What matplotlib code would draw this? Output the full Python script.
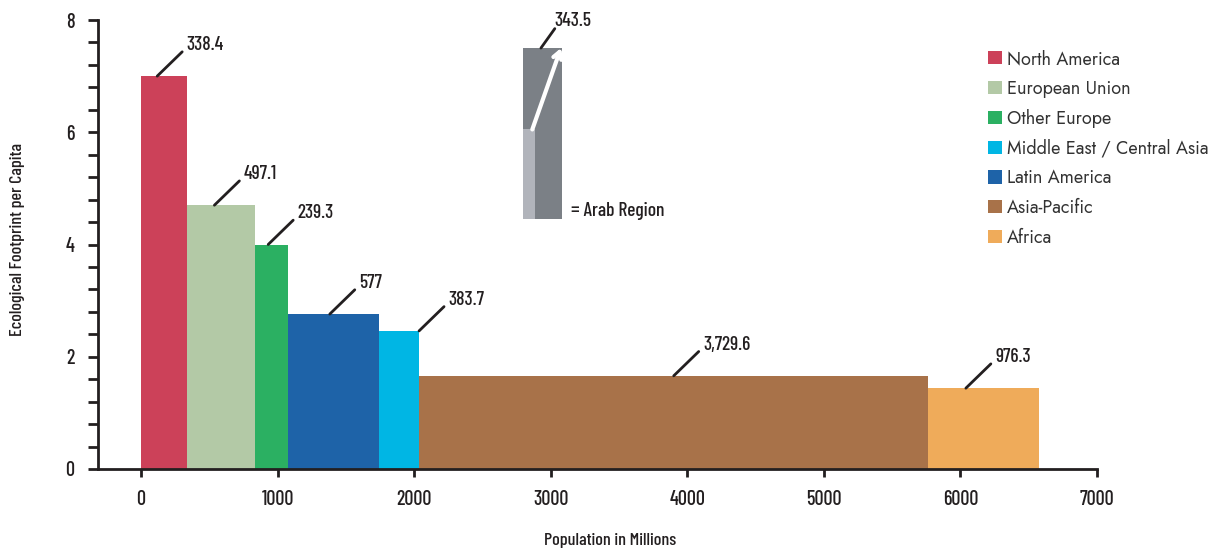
import numpy as np
import matplotlib
matplotlib.use("Agg")
import matplotlib.pyplot as plt
from matplotlib.patches import Patch

# Data
regions = ["North America", "European Union", "Other Europe", "Latin America",
           "Middle East / Central Asia", "Asia-Pacific", "Africa"]
population = [338.4, 497.1, 239.3, 668, 293, 3729.6, 807]      # bar widths as drawn
footprint = [7.0, 4.7, 4.0, 2.76, 2.46, 1.66, 1.44]
pop_labels = ["338.4", "497.1", "239.3", "577", "383.7", "3,729.6", "976.3"]
colors = ["#cc4159", "#b3c9a6", "#2bb062", "#1e63a8", "#00b6e4", "#a87249", "#efab5a"]

legend_order = ["North America", "European Union", "Other Europe",
                "Middle East / Central Asia", "Latin America", "Asia-Pacific", "Africa"]

# Arab Region inset
arab_label = "343.5"
arab_x, arab_width = 2800, 285
arab_base, arab_height, arab_inner = 4.45, 3.05, 1.6
arab_inner_width = 88

# where the leader line leaves each bar (fraction of width)
anchor_frac = [0.35, 0.40, 0.40, 0.46, 1.0, 0.50, 0.34]

narrow = ["Barlow Condensed", "DejaVu Sans"]
book = ["Jost", "DejaVu Sans"]
dark = "#231f20"

fig = plt.figure(figsize=(12.22, 5.5), dpi=100)
ax = fig.add_axes([98 / 1222, 81 / 550, 999 / 1222, 449 / 550])

lefts = np.concatenate([[0], np.cumsum(population)[:-1]])
ax.bar(lefts, footprint, width=population, align="edge", color=colors, linewidth=0)

for left, w, h, lab, f in zip(lefts, population, footprint, pop_labels, anchor_frac):
    xa = left + w * f
    ax.annotate("", xy=(xa, h), xytext=(18, 17.5), textcoords="offset points",
                arrowprops=dict(arrowstyle="-", lw=2, color=dark, shrinkA=0, shrinkB=0))
    ax.annotate(lab, xy=(xa, h), xytext=(21, 16), textcoords="offset points",
                ha="left", va="bottom", fontsize=14, family=narrow, weight="medium",
                color=dark)

# inset
ax.bar(arab_x, arab_height, width=arab_width, bottom=arab_base, align="edge",
       color="#7b8086", linewidth=0)
ax.bar(arab_x, arab_inner, width=arab_inner_width, bottom=arab_base, align="edge",
       color="#b1b4bb", linewidth=0)
ax.annotate("", xy=(arab_x + arab_width - 10, arab_base + arab_height),
            xytext=(arab_x + 65, arab_base + arab_inner),
            arrowprops=dict(arrowstyle="->,head_length=0.5,head_width=0.3", lw=3,
                            color="white", shrinkA=0, shrinkB=0))
xa = arab_x + arab_width * 0.45
ax.annotate("", xy=(xa, arab_base + arab_height), xytext=(10, 14), textcoords="offset points",
            arrowprops=dict(arrowstyle="-", lw=2, color=dark, shrinkA=0, shrinkB=0))
ax.annotate(arab_label, xy=(xa, arab_base + arab_height), xytext=(10, 13),
            textcoords="offset points", ha="left", va="bottom", fontsize=14,
            family=narrow, weight="medium", color=dark)
ax.text(arab_x + arab_width + 65, arab_base + 0.15, "= Arab Region", ha="left", va="center",
        fontsize=14, family=narrow, weight="medium", color=dark)

# axes
ax.set_xlim(-315, 7000)
ax.set_ylim(0, 8)
ax.set_xticks(np.arange(0, 7001, 1000))
ax.set_yticks(np.arange(0, 8.1, 2))
ax.set_yticks(np.arange(0, 8.01, 0.4), minor=True)
for s in ["top", "right"]:
    ax.spines[s].set_visible(False)
for s in ["left", "bottom"]:
    ax.spines[s].set_linewidth(2)
    ax.spines[s].set_color(dark)
ax.tick_params(axis="y", which="both", length=7, width=2, color=dark, pad=10)
ax.tick_params(axis="x", length=6, width=2, color=dark, pad=9)
for t in ax.get_xticklabels() + ax.get_yticklabels():
    t.set_family(narrow)
    t.set_weight("medium")
    t.set_fontsize(14.5)
    t.set_color(dark)

fig.text(610 / 1222, 1 - 540 / 550, "Population in Millions", ha="center", va="center",
         fontsize=13, family=narrow, weight="medium", color=dark)
fig.text(18 / 1222, 1 - 240 / 550, "Ecological Footprint per Capita", ha="center",
         va="center", rotation=90, fontsize=13, family=narrow, weight="medium", color=dark)

# legend
handles = [Patch(facecolor=colors[regions.index(r)], edgecolor="none") for r in legend_order]
fig.legend(handles, legend_order, loc="upper left", bbox_to_anchor=(988 / 1222, 1 - 49 / 550),
           frameon=False, handlelength=0.75, handleheight=0.75,
           handletextpad=0.3, labelspacing=0.6, borderaxespad=0, borderpad=0,
           prop={"family": book, "size": 13}, labelcolor="#333333")

fig.savefig("out.png", dpi=100)
